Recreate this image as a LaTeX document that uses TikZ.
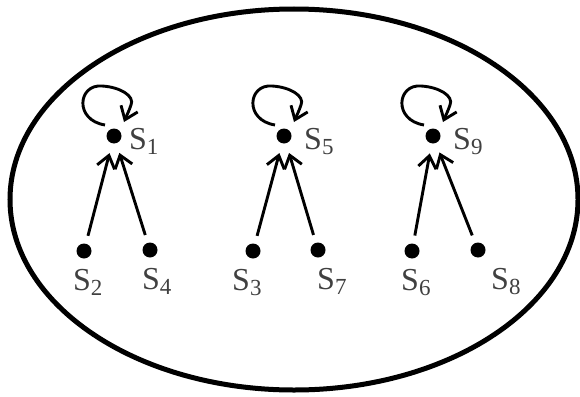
\documentclass[tikz,border=0pt]{standalone}
\usepackage{fontspec}
\setmainfont{Liberation Serif}
\usetikzlibrary{arrows.meta,calc}
\newcommand{\Slab}[1]{S\raisebox{-5pt}{\fontsize{23}{23}\selectfont #1}}
\tikzset{
  dot/.style={circle,fill=black,inner sep=0pt,minimum size=15pt},
  lab/.style={anchor=base west,inner sep=0pt,text=black!75,font=\fontsize{32}{34}\selectfont},
  arr/.style={line width=2.9pt,-{Straight Barb[length=12pt,width=18pt,line width=2.9pt]},shorten <=8pt,shorten >=10pt},
  selfloop/.style={line width=2.9pt,-{Straight Barb[length=12pt,width=18pt,line width=2.9pt]}},
  frame/.style={line width=5pt}
}
\begin{document}
\begin{tikzpicture}[x=1pt,y=-1pt]
\useasboundingbox (0,0) rectangle (580,396);
\draw[frame] (294,199.5) ellipse [x radius=284, y radius=190.5];
% top nodes
\node[dot] (s1) at (114,136) {};
\node[dot] (s5) at (284,136) {};
\node[dot] (s9) at (433,136) {};
% bottom nodes
\node[dot] (s2) at (84,251) {};
\node[dot] (s4) at (150,250) {};
\node[dot] (s3) at (253,251) {};
\node[dot] (s7) at (318,250) {};
\node[dot] (s6) at (412,251) {};
\node[dot] (s8) at (478,250) {};
% labels
\node[lab] (l1) at ($(s1)+(15,13)$) {\Slab{1}};
\node[lab] (l5) at ($(s5)+(20,13)$) {\Slab{5}};
\node[lab] (l9) at ($(s9)+(20,13)$) {\Slab{9}};
\node[lab] (l2) at ($(s2)+(-11,39)$) {\Slab{2}};
\node[lab] (l4) at ($(s4)+(-8,39)$) {\Slab{4}};
\node[lab] (l3) at ($(s3)+(-21,39)$) {\Slab{3}};
\node[lab] (l7) at ($(s7)+(-1,39)$) {\Slab{7}};
\node[lab] (l6) at ($(s6)+(-11,39)$) {\Slab{6}};
\node[lab] (l8) at ($(s8)+(13,39)$) {\Slab{8}};
% arrows
\draw[arr] (s2) -- (s1);
\draw[arr] (s4) -- (s1);
\draw[arr] (s3) -- (s5);
\draw[arr] (s7) -- (s5);
\draw[arr] (s6) -- (s9);
\draw[arr] (s8) -- (s9);
% self loops
\foreach \n in {s1,s5,s9}{
  \draw[selfloop] ($(\n)+(-9,-11)$) .. controls ($(\n)+(-40,-16)$) and ($(\n)+(-36,-52)$) .. ($(\n)+(-12,-50)$)
     .. controls ($(\n)+(6,-49)$) and ($(\n)+(21,-40)$) .. ($(\n)+(17,-31)$)
     .. controls ($(\n)+(15,-25)$) and ($(\n)+(12,-19)$) .. ($(\n)+(10,-14)$);
}
\end{tikzpicture}
\end{document}
